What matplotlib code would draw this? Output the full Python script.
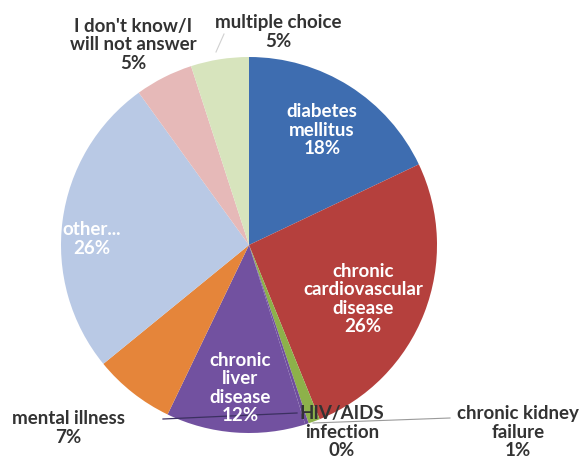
import matplotlib
matplotlib.use("Agg")
from matplotlib import pyplot as plt

# donnees (sens horaire depuis le haut)
categories = ["diabetes\nmellitus", "chronic\ncardiovascular\ndisease",
              "chronic kidney\nfailure", "HIV/AIDS\ninfection",
              "chronic\nliver\ndisease", "mental illness", "other...",
              "I don't know/I\nwill not answer", "multiple choice"]
valeurs = [18, 26, 1, 0.3, 12, 7, 26, 5, 5]
pourcents = ["18%", "26%", "1%", "0%", "12%", "7%", "26%", "5%", "5%"]
couleurs = ["#3E6DB0", "#B5403D", "#8DB14A", "#6E4E9C", "#7251A0",
            "#E5853A", "#B9C9E5", "#E6B9B8", "#D7E4BD"]

# position des etiquettes (pixels image) et couleur du texte
positions = [(322, 130), (363, 299), (518, 432), (342, 432), (240, 388),
             (68, 428), (92, 239), (133, 45), (278, 32)]
interieur = [True, True, False, False, True, False, True, False, False]

H = 465
fig = plt.figure(figsize=(5.87, 4.65), dpi=100)
ax = fig.add_axes([0, 0, 1, 1])

ax.pie(valeurs, colors=couleurs, startangle=90, counterclock=False,
       center=(249, H - 245), radius=188, frame=True,
       wedgeprops=dict(linewidth=0))
ax.set_xlim(0, 587)
ax.set_ylim(0, H)
ax.axis("off")

# traits de rappel
ax.plot([313, 450], [H - 423, H - 418], color="#9a9a9a", lw=0.8)
ax.plot([163, 297], [H - 419, H - 413], color="#3b3060", lw=0.9)
ax.plot([216, 224], [H - 52, H - 34], color="#d0d0d0", lw=0.8)

for i in range(len(categories)):
    x, y = positions[i]
    if interieur[i]:
        c = "white"
    else:
        c = "#333333"
    ax.text(x, H - y, categories[i] + "\n" + pourcents[i], ha="center",
            va="center", fontsize=13.5, fontweight="bold", color=c,
            family=["Lato", "DejaVu Sans"], linespacing=1.1)

fig.savefig("out.png", dpi=100)
